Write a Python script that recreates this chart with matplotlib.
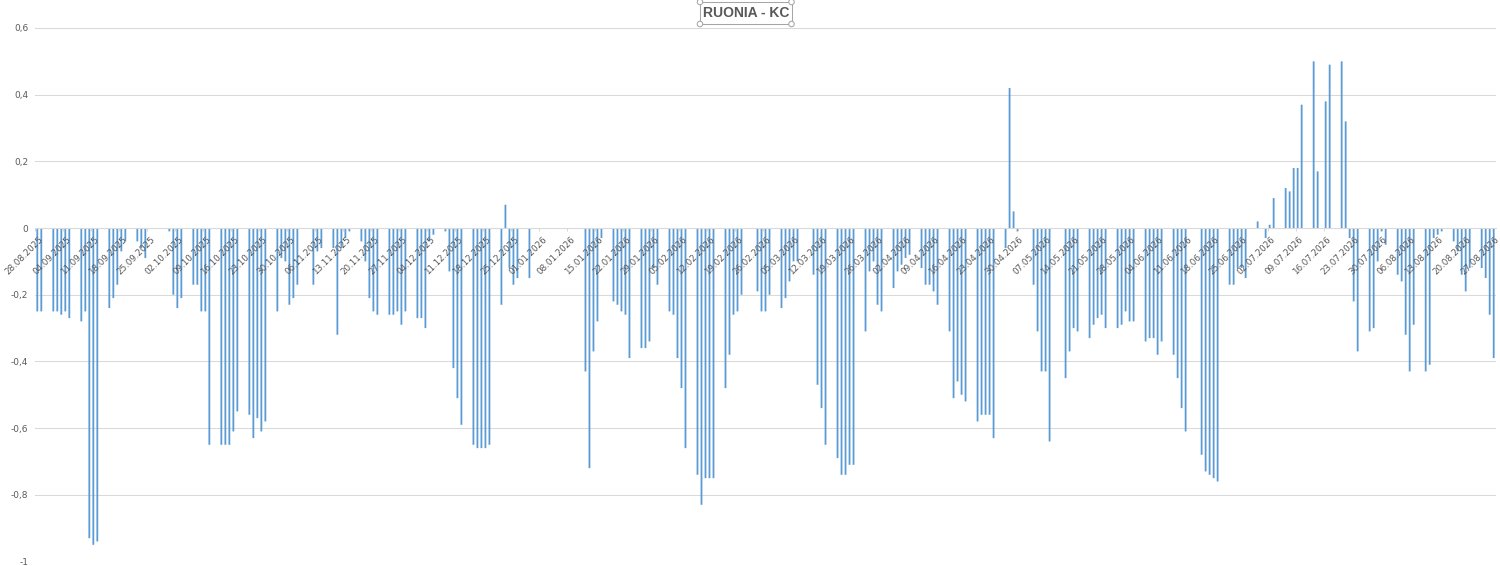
import numpy as np
import pandas as pd
import matplotlib
matplotlib.use('Agg')
import matplotlib.pyplot as plt
from matplotlib.patches import Rectangle, Ellipse
from matplotlib.ticker import FuncFormatter
from matplotlib.transforms import ScaledTranslation

# RUONIA minus key rate, daily (0 = no fixing / weekend / holiday)
start_date = '2025-08-28'
aug_2025 = [-0.25, -0.25, 0, 0]
sep_2025 = [-0.25, -0.25, -0.26, -0.25, -0.27, 0, 0, -0.28, -0.25, -0.93,
            -0.95, -0.94, 0, 0, -0.24, -0.21, -0.17, -0.07, -0.04, 0,
            0, -0.04, -0.06, -0.09, 0, 0, 0, 0, 0, -0.01]
oct_2025 = [-0.20, -0.24, -0.21, 0, 0, -0.17, -0.17, -0.25, -0.25, -0.65,
            0, 0, -0.65, -0.65, -0.65, -0.61, -0.55, 0, 0, -0.56,
            -0.63, -0.57, -0.61, -0.58, 0, 0, -0.25, -0.09, -0.10, -0.23,
            -0.21]
nov_2025 = [-0.17, 0, 0, 0, -0.17, -0.07, -0.06, 0, 0, -0.06,
            -0.32, -0.06, -0.03, -0.01, 0, 0, -0.04, -0.10, -0.21, -0.25,
            -0.26, 0, 0, -0.26, -0.26, -0.25, -0.29, -0.25, 0, 0]
dec_2025 = [-0.27, -0.27, -0.30, -0.04, -0.02, 0, 0, -0.01, -0.13, -0.42,
            -0.51, -0.59, 0, 0, -0.65, -0.66, -0.66, -0.66, -0.65, 0,
            0, -0.23, 0.07, -0.12, -0.17, -0.15, 0, 0, -0.15, 0,
            0]
jan_2026 = [0, 0, 0, 0, 0, 0, 0, 0, 0, 0,
            0, -0.43, -0.72, -0.37, -0.28, -0.03, 0, 0, -0.22, -0.23,
            -0.25, -0.26, -0.39, 0, 0, -0.36, -0.36, -0.34, -0.12, -0.17,
            0]
feb_2026 = [0, -0.25, -0.26, -0.39, -0.48, -0.66, 0, 0, -0.74, -0.83,
            -0.75, -0.75, -0.75, 0, 0, -0.48, -0.38, -0.26, -0.25, -0.20,
            0, 0, 0, -0.19, -0.25, -0.25, -0.20, 0]
mar_2026 = [0, -0.24, -0.21, -0.16, -0.10, -0.10, 0, 0, 0, -0.14,
            -0.47, -0.54, -0.65, 0, 0, -0.69, -0.74, -0.74, -0.71, -0.71,
            0, 0, -0.31, -0.13, -0.10, -0.23, -0.25, 0, 0, -0.18,
            -0.13]
apr_2026 = [-0.11, -0.09, -0.08, 0, 0, -0.12, -0.17, -0.17, -0.19, -0.23,
            0, 0, -0.31, -0.51, -0.46, -0.50, -0.52, 0, 0, -0.58,
            -0.56, -0.56, -0.56, -0.63, 0, 0, -0.06, 0.42, 0.05, -0.01]
may_2026 = [0, 0, 0, -0.17, -0.31, -0.43, -0.43, -0.64, 0, 0,
            0, -0.45, -0.37, -0.30, -0.31, 0, 0, -0.33, -0.29, -0.27,
            -0.26, -0.30, 0, 0, -0.30, -0.29, -0.25, -0.28, -0.28, 0,
            0]
jun_2026 = [-0.34, -0.33, -0.33, -0.38, -0.34, 0, 0, -0.38, -0.45, -0.54,
            -0.61, 0, 0, 0, -0.68, -0.73, -0.74, -0.75, -0.76, 0,
            0, -0.17, -0.17, -0.12, -0.12, -0.15, 0, 0, 0.02, 0]
jul_2026 = [-0.03, 0.01, 0.09, 0, 0, 0.12, 0.11, 0.18, 0.18, 0.37,
            0, 0, 0.50, 0.17, 0, 0.38, 0.49, 0, 0, 0.50,
            0.32, -0.03, -0.22, -0.37, 0, 0, -0.31, -0.30, -0.10, -0.01,
            -0.05]
aug_2026 = [0, 0, -0.14, -0.16, -0.32, -0.43, -0.29, 0, 0, -0.43,
            -0.41, -0.03, -0.02, -0.01, 0, 0, -0.04, -0.07, -0.14, -0.19,
            -0.12, 0, 0, -0.12, -0.15, -0.26, -0.39]

values = (aug_2025 + sep_2025 + oct_2025 + nov_2025 + dec_2025 + jan_2026 +
          feb_2026 + mar_2026 + apr_2026 + may_2026 + jun_2026 + jul_2026 +
          aug_2026)
dates = pd.date_range(start_date, periods=len(values), freq='D')
date_labels = list(dates.strftime('%d.%m.%Y'))

blue = '#5B9BD5'
grid_c = '#D9D9D9'
text_c = '#595959'

W, H = 1500, 566
fig = plt.figure(figsize=(W / 100, H / 100), dpi=100)
ax = fig.add_axes([35.3 / W, 4.5 / H, 1460.4 / W, 533.5 / H])
ax.set_axisbelow(False)  # date labels sit on top of the bars

x = np.arange(len(values))
ax.bar(x, values, width=0.45, color=blue, linewidth=0, zorder=2, snap=False)

ax.set_xlim(-0.5, len(values) - 0.5)
ax.set_ylim(-1, 0.6)

yticks = np.round(np.arange(-1, 0.61, 0.2), 1)
for t in yticks:
    ax.axhline(t, color=grid_c, lw=0.75, zorder=0)
ax.set_yticks(yticks)


def fmt(v, pos):
    s = f'{round(v, 1):g}'.replace('.', ',')
    return '0' if s == '-0' else s


ax.yaxis.set_major_formatter(FuncFormatter(fmt))
ax.tick_params(axis='y', length=0, pad=5, labelsize=6.5, labelcolor=text_c)

for s in ['left', 'right', 'top']:
    ax.spines[s].set_visible(False)
ax.spines['bottom'].set_position(('data', 0))
ax.spines['bottom'].set_color(grid_c)
ax.spines['bottom'].set_linewidth(0.75)

tick_idx = x[::7]
ax.set_xticks(tick_idx)
ax.set_xticklabels(date_labels[::7], rotation=45, ha='right',
                   rotation_mode='anchor', fontsize=6.3, color=text_c)
ax.set_xticks(tick_idx - 0.5, minor=True)
ax.tick_params(axis='x', which='major', length=0, pad=5)
ax.tick_params(axis='x', which='minor', length=2.2, width=0.75, color=grid_c)
shift = ScaledTranslation(1 / 100, 0, fig.dpi_scale_trans)
for lbl in ax.get_xticklabels():
    lbl.set_transform(lbl.get_transform() + shift)

# selected-title look (box with handles)
bx0, bx1, by0, by1 = 700, 791.5, 2, 24
fig.add_artist(Rectangle((bx0 / W, 1 - by1 / H), (bx1 - bx0) / W, (by1 - by0) / H,
                         transform=fig.transFigure, fc='white', ec='#A6A6A6', lw=0.75))
for cx in (bx0, bx1):
    for cy in (by0, by1):
        fig.add_artist(Ellipse((cx / W, 1 - cy / H), 5.5 / W, 5.5 / H,
                               transform=fig.transFigure, fc='white',
                               ec='#A6A6A6', lw=0.75))
fig.text((bx0 + bx1) / 2 / W, 1 - (by0 + by1) / 2 / H, 'RUONIA - KC',
         ha='center', va='center', fontsize=10, fontweight='bold',
         color=text_c, family='Liberation Sans')

fig.savefig('out.png', dpi=100)
